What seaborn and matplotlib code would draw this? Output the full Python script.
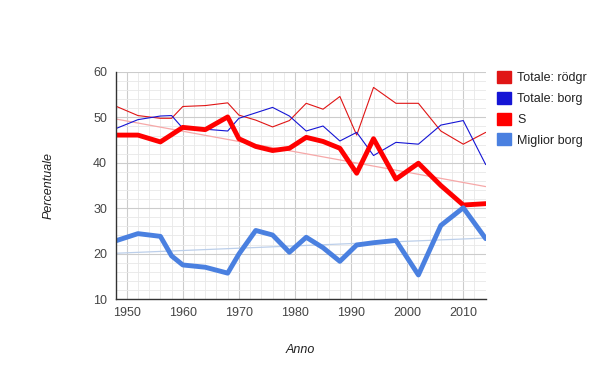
import numpy as np
import pandas as pd
import matplotlib
matplotlib.use("Agg")
import matplotlib.pyplot as plt
import seaborn as sns
from matplotlib.patches import Patch
from matplotlib.ticker import MultipleLocator

# election years and shares (%)
years = [1948, 1952, 1956, 1958, 1960, 1964, 1968, 1970, 1973, 1976, 1979,
         1982, 1985, 1988, 1991, 1994, 1998, 2002, 2006, 2010, 2014]
totale_rodgr = [52.5, 50.4, 49.8, 49.8, 52.4, 52.6, 53.2, 50.5, 49.4, 47.9, 49.3,
                53.1, 51.8, 54.6, 46.1, 56.6, 53.1, 53.1, 47.0, 44.1, 46.7]
totale_borg = [47.5, 49.5, 50.3, 50.4, 47.6, 47.4, 47.0, 49.8, 51.0, 52.2, 50.3,
               47.0, 48.1, 44.8, 46.7, 41.6, 44.5, 44.1, 48.3, 49.3, 39.6]
s_share = [46.1, 46.1, 44.6, 46.2, 47.8, 47.3, 50.1, 45.3, 43.6, 42.7, 43.2,
           45.6, 44.7, 43.2, 37.7, 45.3, 36.4, 39.9, 35.0, 30.7, 31.0]
miglior_borg = [22.8, 24.4, 23.8, 19.5, 17.5, 17.0, 15.7, 19.9, 25.1, 24.1, 20.3,
                23.6, 21.3, 18.3, 21.9, 22.4, 22.9, 15.3, 26.2, 30.1, 23.3]

labels = ["Totale: rödgr", "Totale: borg", "S", "Miglior borg"]
colors = ["#e01515", "#1515d5", "#ff0000", "#4a80e0"]

sns.set_theme(style="white")
plt.rcParams["font.family"] = ["Liberation Sans", "DejaVu Sans"]

fig = plt.figure(figsize=(6, 3.71), dpi=100)
ax = fig.add_axes([0.1925, 0.194, 0.617, 0.612])

yrs = np.array(years)
# linear trends for S and Miglior borg
for vals, c in [(s_share, "#f6a8a8"), (miglior_borg, "#bccfea")]:
    k, b = np.polyfit(yrs, vals, 1)
    ends = np.array([1948, 2014])
    sns.lineplot(x=ends, y=k * ends + b, ax=ax, color=c, linewidth=0.9)

sns.lineplot(x=years, y=totale_rodgr, ax=ax, color=colors[0], linewidth=0.8)
sns.lineplot(x=years, y=totale_borg, ax=ax, color=colors[1], linewidth=0.8)
sns.lineplot(x=years, y=s_share, ax=ax, color=colors[2], linewidth=3.5)
sns.lineplot(x=years, y=miglior_borg, ax=ax, color=colors[3], linewidth=3.5)

ax.set_xlim(1948, 2014)
ax.set_ylim(10, 60)
ax.xaxis.set_major_locator(MultipleLocator(10))
ax.xaxis.set_minor_locator(MultipleLocator(2))
ax.yaxis.set_major_locator(MultipleLocator(10))
ax.yaxis.set_minor_locator(MultipleLocator(2))
ax.grid(which="major", color="#cccccc", linewidth=0.8)
ax.grid(which="minor", color="#e8e8e8", linewidth=0.6)
ax.set_axisbelow(True)

for side in ["top", "right"]:
    ax.spines[side].set_visible(False)
for side in ["left", "bottom"]:
    ax.spines[side].set_color("#333333")
    ax.spines[side].set_linewidth(1)

ax.tick_params(axis="both", which="both", length=0, labelsize=9,
               labelcolor="#444444", pad=6)
ax.set_xlabel("Anno", fontsize=9, style="italic", color="#222222", labelpad=18)
ax.set_ylabel("Percentuale", fontsize=9, style="italic", color="#222222",
              labelpad=28)

handles = [Patch(facecolor=c, edgecolor=c) for c in colors]
fig.legend(handles, labels, loc="upper left", bbox_to_anchor=(0.818, 0.825),
           frameon=False, fontsize=9, handlelength=1.1, handleheight=1.1,
           handletextpad=0.5, labelspacing=0.6, borderpad=0,
           labelcolor="#222222")

fig.savefig("out.png", dpi=100)
